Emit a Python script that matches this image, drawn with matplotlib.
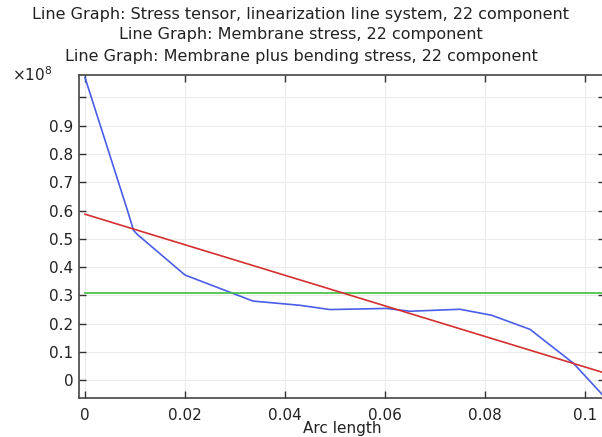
import matplotlib
matplotlib.use("Agg")
import matplotlib.pyplot as plt
from matplotlib.ticker import FixedLocator

# Arc length along the linearization line (m)
arc_stress = [0.0, 0.0085, 0.0097, 0.0105, 0.020, 0.0336, 0.043, 0.049,
              0.0603, 0.065, 0.075, 0.0813, 0.089, 0.0977, 0.105]
# Stress tensor, 22 component (Pa)
stress_22 = [1.07e8, 0.60e8, 0.53e8, 0.515e8, 0.372e8, 0.28e8, 0.265e8, 0.25e8,
             0.254e8, 0.244e8, 0.251e8, 0.23e8, 0.18e8, 0.06e8, -0.08e8]

arc_lin = [0.0, 0.105]
membrane_22 = [0.307e8, 0.307e8]
membrane_bending_22 = [0.587e8, 0.020e8]

titles = ["Line Graph: Stress tensor, linearization line system, 22 component",
          "Line Graph: Membrane stress, 22 component",
          "Line Graph: Membrane plus bending stress, 22 component"]

x_ticks = [0.0, 0.02, 0.04, 0.06, 0.08, 0.1]
x_tick_labels = ["0", "0.02", "0.04", "0.06", "0.08", "0.1"]
y_ticks = [0.0, 0.1e8, 0.2e8, 0.3e8, 0.4e8, 0.5e8, 0.6e8, 0.7e8, 0.8e8, 0.9e8, 1.0e8]
y_tick_labels = ["0", "0.1", "0.2", "0.3", "0.4", "0.5", "0.6", "0.7", "0.8", "0.9", ""]

W, H = 602, 437
fig = plt.figure(figsize=(W / 100, H / 100), dpi=100)
left, right, top, bottom = 79, 605, 75, 398
ax = fig.add_axes([left / W, 1 - bottom / H, (right - left) / W, (bottom - top) / H])

ax.plot(arc_stress, stress_22, color="#4a5ee8", lw=1.2, zorder=3)
ax.plot(arc_lin, membrane_22, color="#3fbf3f", lw=1.2, zorder=3)
ax.plot(arc_lin, membrane_bending_22, color="#d43030", lw=1.2, zorder=3)

ax.set_xlim(-0.0012, 0.104)
ax.set_ylim(-0.0626e8, 1.079e8)

ax.xaxis.set_major_locator(FixedLocator(x_ticks))
ax.set_xticklabels(x_tick_labels)
ax.yaxis.set_major_locator(FixedLocator(y_ticks))
ax.set_yticklabels(y_tick_labels)

ax.grid(True, color="#ececec", lw=0.8, zorder=0)
ax.tick_params(direction="in", length=5, width=1, color="#333333",
               labelsize=11, labelcolor="#222222", top=True, right=True)
ax.tick_params(axis="x", pad=7)
ax.tick_params(axis="y", pad=4)
for s in ax.spines.values():
    s.set_color("#444444")
    s.set_linewidth(1.2)

ax.set_xlabel("Arc length", fontsize=11, labelpad=-1.5, color="#222222")

for i, t in enumerate(titles):
    fig.text(0.5, 1 - (14 + 21 * i) / H, t, ha="center", va="center",
             fontsize=11.5, color="#222222")

fig.text(12 / W, 1 - 75 / H, r"$\times10^{8}$", ha="left", va="center",
         fontsize=11, color="#222222")

fig.savefig("out.png", dpi=100)
